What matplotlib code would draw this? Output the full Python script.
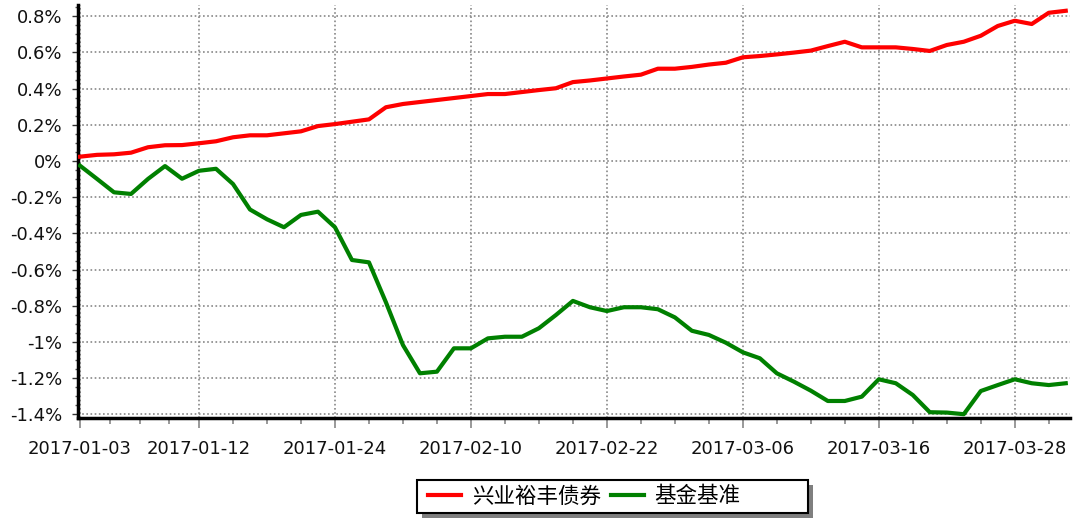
import matplotlib
matplotlib.use('Agg')
import matplotlib.pyplot as plt
import numpy as np
from matplotlib.ticker import FixedLocator, FuncFormatter, MultipleLocator
from matplotlib.patches import Rectangle
from matplotlib.lines import Line2D

plt.rcParams['font.family'] = ['DejaVu Sans', 'Noto Sans CJK SC']

dates = [
    '2017-01-03', '2017-01-04', '2017-01-05', '2017-01-06', '2017-01-09', '2017-01-10',
    '2017-01-11', '2017-01-12', '2017-01-13', '2017-01-16', '2017-01-17', '2017-01-18',
    '2017-01-19', '2017-01-20', '2017-01-23', '2017-01-24', '2017-01-25', '2017-01-26',
    '2017-02-03', '2017-02-06', '2017-02-07', '2017-02-08', '2017-02-09', '2017-02-10',
    '2017-02-13', '2017-02-14', '2017-02-15', '2017-02-16', '2017-02-17', '2017-02-20',
    '2017-02-21', '2017-02-22', '2017-02-23', '2017-02-24', '2017-02-27', '2017-02-28',
    '2017-03-01', '2017-03-02', '2017-03-03', '2017-03-06', '2017-03-07', '2017-03-08',
    '2017-03-09', '2017-03-10', '2017-03-13', '2017-03-14', '2017-03-15', '2017-03-16',
    '2017-03-17', '2017-03-20', '2017-03-21', '2017-03-22', '2017-03-23', '2017-03-24',
    '2017-03-27', '2017-03-28', '2017-03-29', '2017-03-30', '2017-03-31',
]

fund = [
    0.024, 0.034, 0.037, 0.046, 0.076, 0.087, 0.088, 0.098, 0.109, 0.131,
    0.142, 0.142, 0.153, 0.164, 0.193, 0.204, 0.217, 0.230, 0.297, 0.315,
    0.326, 0.337, 0.348, 0.359, 0.370, 0.370, 0.381, 0.392, 0.402, 0.436,
    0.445, 0.456, 0.467, 0.477, 0.510, 0.510, 0.520, 0.533, 0.543, 0.573,
    0.580, 0.589, 0.599, 0.610, 0.635, 0.659, 0.628, 0.628, 0.628, 0.619,
    0.608, 0.641, 0.659, 0.692, 0.746, 0.775, 0.757, 0.819, 0.830,
]

bench = [
    -0.026, -0.099, -0.173, -0.182, -0.099, -0.028, -0.098, -0.054, -0.043, -0.127,
    -0.268, -0.322, -0.366, -0.298, -0.280, -0.366, -0.547, -0.560, -0.781, -1.017,
    -1.173, -1.164, -1.035, -1.035, -0.980, -0.971, -0.971, -0.924, -0.851, -0.773,
    -0.808, -0.829, -0.808, -0.808, -0.819, -0.864, -0.938, -0.961, -1.004, -1.057,
    -1.090, -1.173, -1.219, -1.269, -1.326, -1.326, -1.302, -1.206, -1.228, -1.293,
    -1.388, -1.390, -1.399, -1.271, -1.238, -1.206, -1.228, -1.238, -1.228,
]

tick_dates = ['2017-01-03', '2017-01-12', '2017-01-24', '2017-02-10',
              '2017-02-22', '2017-03-06', '2017-03-16', '2017-03-28']

series_names = ['兴业裕丰债券', '基金基准']
series_colors = ['#ff0000', '#008000']

fig = plt.figure(figsize=(10.74, 5.21), dpi=100)
ax = fig.add_axes([78 / 1074, 1 - 418 / 521, (1070 - 78) / 1074, (418 - 5) / 521])

x = np.arange(len(dates))
ax.plot(x, fund, color=series_colors[0], lw=3, solid_joinstyle='round', zorder=3)
ax.plot(x, bench, color=series_colors[1], lw=3, solid_joinstyle='round', zorder=3)

ax.set_xlim(-0.12, 58.25)
ax.set_ylim(-1.42, 0.862)

major_pos = [dates.index(d) for d in tick_dates]
minor_pos = []
for a, b in zip(major_pos[:-1], major_pos[1:]):
    minor_pos.extend(list(np.linspace(a, b, 5)[1:-1]))
minor_pos.append(major_pos[-1] + 2)
ax.xaxis.set_major_locator(FixedLocator(major_pos))
ax.set_xticklabels(tick_dates)
ax.xaxis.set_minor_locator(FixedLocator(minor_pos))

def pct(v, pos):
    v = round(v, 2)
    if abs(v) < 1e-9:
        v = 0
    return '{:g}%'.format(v)

ax.yaxis.set_major_locator(MultipleLocator(0.2))
ax.yaxis.set_minor_locator(MultipleLocator(0.05))
ax.yaxis.set_major_formatter(FuncFormatter(pct))

for s in ['top', 'right']:
    ax.spines[s].set_visible(False)
for s in ['left', 'bottom']:
    ax.spines[s].set_linewidth(2.5)
    ax.spines[s].set_color('black')

ax.tick_params(axis='y', which='major', length=4.5, width=1, color='#333333',
               labelsize=13, pad=7, labelcolor='#111111')
ax.tick_params(axis='y', which='minor', length=2.5, width=1, color='#555555')
ax.tick_params(axis='x', which='major', length=7, width=1.2, color='#888888',
               labelsize=13, pad=9, labelcolor='#111111')
ax.tick_params(axis='x', which='minor', length=4.5, width=1.2, color='#888888')

ax.grid(which='major', linestyle=(0, (1, 1.5)), color='#888888', linewidth=1.2)
ax.set_axisbelow(True)

# legend box with shadow
bx0, by0, bx1, by1 = 417, 480, 808, 513
W, H = 1074, 521
shadow = Rectangle(((bx0 + 5) / W, 1 - (by1 + 5) / H), (bx1 - bx0) / W, (by1 - by0) / H,
                   transform=fig.transFigure, facecolor='#7f7f7f', edgecolor='none', zorder=1)
box = Rectangle((bx0 / W, 1 - by1 / H), (bx1 - bx0) / W, (by1 - by0) / H,
                transform=fig.transFigure, facecolor='white', edgecolor='black', lw=1.5, zorder=2)
fig.patches.extend([shadow, box])

handles = [Line2D([], [], color=c, lw=3) for c in series_colors]
leg = fig.legend(handles, series_names, loc='center left',
                 bbox_to_anchor=(bx0 / W, 1 - 496.5 / H), ncol=2, frameon=False,
                 prop={'family': ['Noto Sans CJK SC', 'DejaVu Sans'], 'size': 15.5},
                 handlelength=1.55, handletextpad=0.5, columnspacing=0.45,
                 borderaxespad=0, borderpad=0.5)
leg.set_zorder(5)

fig.savefig('out.png', dpi=100)
